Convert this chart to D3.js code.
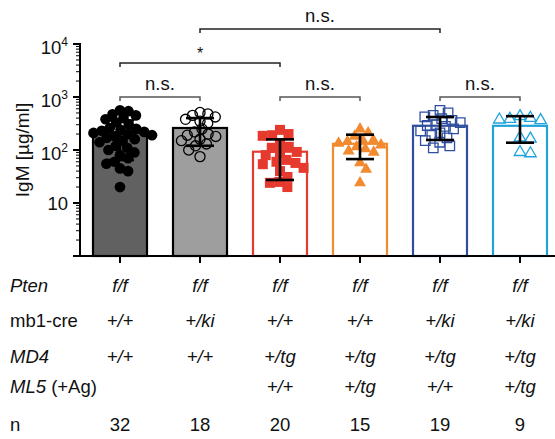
<!DOCTYPE html>
<html>
<head>
<meta charset="utf-8">
<script src="https://cdn.jsdelivr.net/npm/d3@7"></script>
<style>
  body { margin: 0; background: #fff; }
  text { font-family: Arial, "Liberation Sans", Helvetica, sans-serif; }
</style>
</head>
<body>
<svg width="555" height="439"></svg>
<script>
// groups, left to right
const groups = ["wt", "ki", "md4", "md4ml5", "ki_md4", "ki_md4ml5"];

// IgM values (ug/ml)
const igmWt = [560, 540, 470, 450, 400, 380, 330, 300, 260, 250, 240, 230, 220, 210, 200, 190,
  180, 170, 160, 150, 140, 120, 110, 100, 90, 80, 70, 60, 55, 45, 40, 20];
const igmKi = [510, 480, 450, 420, 380, 350, 320, 250, 220, 200, 190, 180, 160, 150, 130, 120, 100, 75];
const igmMd4 = [240, 200, 185, 190, 135, 115, 110, 92, 88, 80, 65, 60, 57, 54, 46, 40, 31, 25, 24, 20];
const igmMd4Ml5 = [260, 220, 190, 160, 150, 160, 140, 130, 120, 110, 100, 95, 60, 45, 25];
const igmKiMd4 = [560, 500, 450, 420, 390, 360, 330, 300, 290, 280, 250, 230, 210, 190, 170, 150, 140, 120, 110];
const igmKiMd4Ml5 = [450, 420, 400, 390, 380, 180, 170, 95, 90];

// genotype table
const ptenRow = ["f/f", "f/f", "f/f", "f/f", "f/f", "f/f"];
const mb1Row = ["+/+", "+/ki", "+/+", "+/+", "+/ki", "+/ki"];
const md4Row = ["+/+", "+/+", "+/tg", "+/tg", "+/tg", "+/tg"];
const ml5Row = ["", "", "+/+", "+/tg", "+/+", "+/tg"];

const yTicks = [10, 100, 1000, 10000];

// significance comparisons: [from, to, label, level]
const comparisons = [
  [0, 1, "n.s.", 0],
  [2, 3, "n.s.", 0],
  [4, 5, "n.s.", 0],
  [0, 2, "*", 1],
  [1, 4, "n.s.", 2]
];

const values = [igmWt, igmKi, igmMd4, igmMd4Ml5, igmKiMd4, igmKiMd4Ml5];

const styles = [
  { color: "#000", fill: "#616161", symbol: d3.symbolCircle, size: 90, open: false, d: 8.5 },
  { color: "#000", fill: "#9e9e9e", symbol: d3.symbolCircle, size: 80, open: true, d: 8 },
  { color: "#e63a2e", fill: "#fff", symbol: d3.symbolSquare, size: 100, open: false, d: 9.5 },
  { color: "#f28a30", fill: "#fff", symbol: d3.symbolTriangle, size: 62, open: false, d: 9 },
  { color: "#2f4f9e", fill: "#fff", symbol: d3.symbolSquare, size: 90, open: true, d: 8.5 },
  { color: "#1fa3dd", fill: "#fff", symbol: d3.symbolTriangle, size: 58, open: true, d: 10.5 }
];

let svg = d3.select("svg");

let x = d3.scaleBand().domain(groups).range([80, 560]).padding(0);
let y = d3.scaleLog().domain([1, 10000]).range([256, 44]);
let barW = 54;
let fs = 18.5;

// bars
let stats = values.map((v) => ({ mean: d3.mean(v), sd: d3.deviation(v) }));

svg.append("g")
  .selectAll("rect")
  .data(groups)
  .enter()
  .append("rect")
  .attr("x", (d) => x(d) + x.bandwidth() / 2 - barW / 2)
  .attr("y", (d, i) => y(stats[i].mean))
  .attr("width", barW)
  .attr("height", (d, i) => y(1) - y(stats[i].mean))
  .attr("fill", (d, i) => styles[i].fill)
  .attr("stroke", (d, i) => styles[i].color)
  .attr("stroke-width", 2.2);

// simple beeswarm so dots do not pile up
function swarm(vals, diam) {
  let placed = [];
  let sorted = vals.map((v) => y(v)).sort((a, b) => a - b);
  sorted.forEach((py) => {
    let cands = [0];
    placed.forEach((p) => {
      let dy = Math.abs(p.y - py);
      if (dy < diam) {
        let dx = Math.sqrt(diam * diam - dy * dy);
        cands.push(p.x + dx, p.x - dx);
      }
    });
    cands.sort((a, b) => Math.abs(a) - Math.abs(b));
    let best = cands.find((c) =>
      placed.every((p) => (p.x - c) ** 2 + (p.y - py) ** 2 >= diam * diam - 0.01));
    placed.push({ x: best, y: py });
  });
  return placed;
}

groups.forEach((g, i) => {
  let st = styles[i];
  let cx = x(g) + x.bandwidth() / 2;
  let pts = swarm(values[i], st.d);
  svg.append("g")
    .selectAll("path")
    .data(pts)
    .enter()
    .append("path")
    .attr("d", d3.symbol().type(st.symbol).size(st.size))
    .attr("transform", (d) => {
      let off = st.symbol === d3.symbolTriangle ? 1 : 0;
      return `translate(${cx + d.x},${d.y + off})`;
    })
    .attr("fill", st.open ? "none" : st.color)
    .attr("stroke", st.color)
    .attr("stroke-width", st.open ? 1.3 : 0);
});

// error bars (mean +/- SD)
let err = svg.append("g").attr("stroke", "#000").attr("stroke-width", 2.6);
groups.forEach((g, i) => {
  let cx = x(g) + x.bandwidth() / 2;
  let hi = y(stats[i].mean + stats[i].sd);
  let lo = y(Math.max(stats[i].mean - stats[i].sd, 1.1));
  err.append("line").attr("x1", cx).attr("x2", cx).attr("y1", hi).attr("y2", lo);
  err.append("line").attr("x1", cx - 14).attr("x2", cx + 14).attr("y1", hi).attr("y2", hi);
  err.append("line").attr("x1", cx - 14).attr("x2", cx + 14).attr("y1", lo).attr("y2", lo);
});

// y axis
let yAxis = svg.append("g");
yAxis.append("line")
  .attr("x1", 80).attr("x2", 80)
  .attr("y1", y(10000) - 1).attr("y2", y(1))
  .attr("stroke", "#000").attr("stroke-width", 2);

let minor = [];
for (let e = 0; e < 4; e++) {
  for (let m = 2; m <= 9; m++) minor.push(m * Math.pow(10, e));
}
yAxis.selectAll(".minor")
  .data(minor)
  .enter()
  .append("line")
  .attr("x1", 76).attr("x2", 80)
  .attr("y1", (d) => y(d)).attr("y2", (d) => y(d))
  .attr("stroke", "#000").attr("stroke-width", 1);

yAxis.selectAll(".major")
  .data(yTicks)
  .enter()
  .append("line")
  .attr("x1", 73).attr("x2", 80)
  .attr("y1", (d) => y(d)).attr("y2", (d) => y(d))
  .attr("stroke", "#000").attr("stroke-width", 2);

yTicks.forEach((t) => {
  let e = Math.round(Math.log10(t));
  let lbl = yAxis.append("text")
    .attr("x", 68)
    .attr("y", y(t) + (e === 1 ? 7 : 10))
    .attr("text-anchor", "end")
    .attr("font-size", fs)
    .attr("fill", "#111");
  if (e === 1) {
    lbl.text("10");
  } else {
    lbl.append("tspan").text("10");
    lbl.append("tspan").attr("font-size", 12).attr("dy", -8).text(e);
  }
});

svg.append("text")
  .attr("transform", "translate(29,150) rotate(-90)")
  .attr("text-anchor", "middle")
  .attr("font-size", 19)
  .attr("fill", "#111")
  .text("IgM [µg/ml]");

// x axis
svg.append("line")
  .attr("x1", 73).attr("x2", 555)
  .attr("y1", y(1)).attr("y2", y(1))
  .attr("stroke", "#000").attr("stroke-width", 2);

svg.append("g")
  .selectAll("line")
  .data(groups)
  .enter()
  .append("line")
  .attr("x1", (d) => x(d) + x.bandwidth() / 2)
  .attr("x2", (d) => x(d) + x.bandwidth() / 2)
  .attr("y1", y(1)).attr("y2", y(1) + 7)
  .attr("stroke", "#000").attr("stroke-width", 2);

// significance brackets
let levelY = [97, 63, 29];
let brk = svg.append("g");
comparisons.forEach(([a, b, label, lev]) => {
  let x1 = x(groups[a]) + x.bandwidth() / 2;
  let x2 = x(groups[b]) + x.bandwidth() / 2;
  let by = levelY[lev];
  let col = lev === 0 ? "#555" : "#222";
  brk.append("path")
    .attr("d", `M${x1},${by + 4}V${by}H${x2}V${by + 4}`)
    .attr("fill", "none")
    .attr("stroke", col)
    .attr("stroke-width", 1.5);
  brk.append("text")
    .attr("x", (x1 + x2) / 2)
    .attr("y", label === "*" ? by - 4 : by - 7)
    .attr("text-anchor", "middle")
    .attr("font-size", label === "*" ? 16 : fs)
    .attr("fill", "#111")
    .text(label);
});

// genotype table
let rows = [
  { label: [["Pten", true]], cells: ptenRow, italic: true, y: 292 },
  { label: [["mb1-cre", false]], cells: mb1Row, italic: true, y: 327 },
  { label: [["MD4", true]], cells: md4Row, italic: true, y: 363 },
  { label: [["ML5", true], [" (+Ag)", false]], cells: ml5Row, italic: true, y: 393 },
  { label: [["n", false]], cells: values.map((v) => v.length), italic: false, y: 431 }
];

let table = svg.append("g").attr("font-size", fs).attr("fill", "#111");
rows.forEach((r) => {
  let t = table.append("text").attr("x", 10).attr("y", r.y);
  r.label.forEach(([s, it]) => {
    t.append("tspan").attr("font-style", it ? "italic" : "normal").text(s);
  });
  table.append("g")
    .selectAll("text")
    .data(r.cells)
    .enter()
    .append("text")
    .attr("x", (d, i) => x(groups[i]) + x.bandwidth() / 2)
    .attr("y", r.y)
    .attr("text-anchor", "middle")
    .attr("font-style", r.italic ? "italic" : "normal")
    .text((d) => d);
});
</script>
</body>
</html>
